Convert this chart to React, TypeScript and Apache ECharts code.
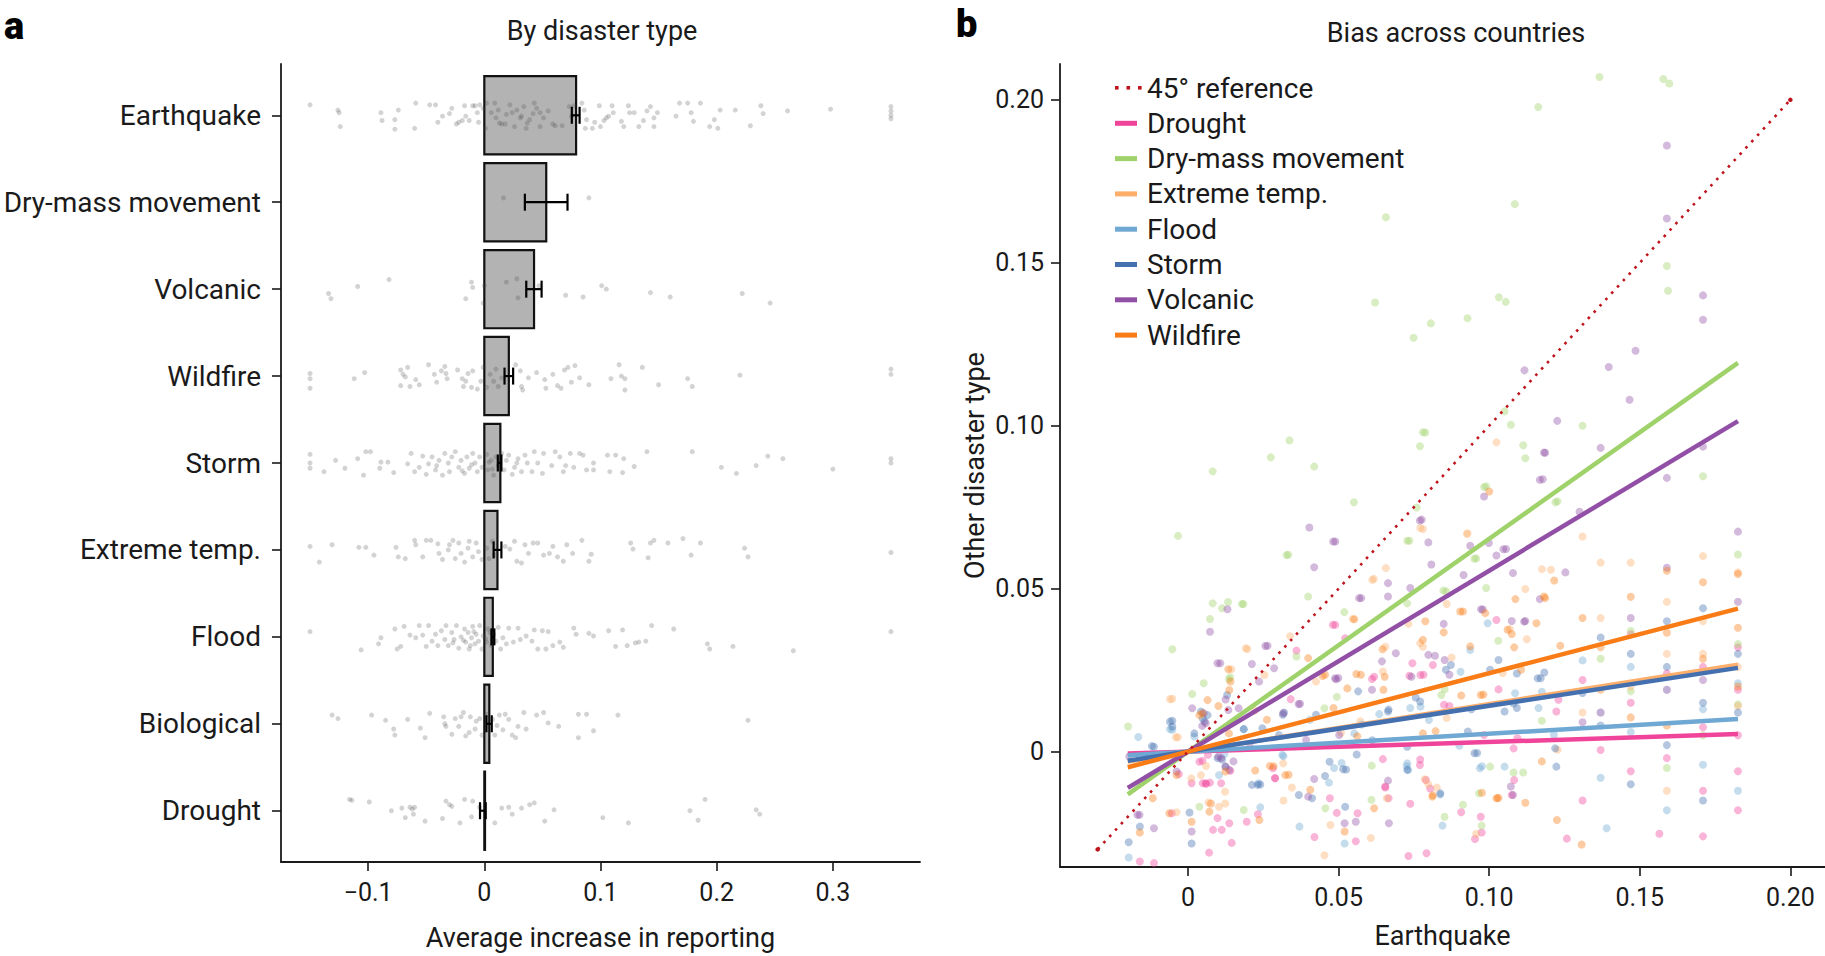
import React, { useEffect, useRef } from "react";
import * as echarts from "echarts";

// ---------------- Panel a data ----------------
const categories = ["Earthquake", "Dry-mass movement", "Volcanic", "Wildfire", "Storm", "Extreme temp.", "Flood", "Biological", "Drought"];
const barMeans = [0.079, 0.0533, 0.0428, 0.0211, 0.0138, 0.0113, 0.0073, 0.0043, 0.0006];
const ciLow = [0.0753, 0.0349, 0.0361, 0.0174, 0.0116, 0.008, 0.0061, 0.0018, -0.0037];
const ciHigh = [0.082, 0.0716, 0.0493, 0.0248, 0.0147, 0.0147, 0.0086, 0.0064, 0.0012];
const xTicksA = [-0.1, 0, 0.1, 0.2, 0.3];

// country-level points: [value, vertical jitter in category units]
const ptsEarthquake = [
  [-0.15, -0.12], [-0.126, -0.06], [-0.125, -0.03], [-0.124, 0.13], [-0.089, -0.03], [-0.088, 0.06], [-0.077, 0.05], [-0.074, -0.06],
  [-0.077, 0.16], [-0.06, 0.15], [-0.059, -0.14], [-0.047, -0.12], [-0.042, -0.12], [-0.04, 0.08], [-0.036, 0.01], [-0.03, -0.02],
  [-0.028, -0.08], [-0.024, 0.1], [-0.022, 0.08], [-0.019, 0.06], [-0.017, -0.11], [-0.016, 0.01], [-0.013, 0.06], [-0.01, -0.11],
  [-0.008, -0.11], [-0.005, 0.08], [-0.006, -0.03], [-0.004, -0.12], [-0.001, -0.08], [0.001, 0.15], [0.002, -0.14], [0.006, -0.03],
  [0.009, -0.14], [0.01, 0.03], [0.012, -0.06], [0.013, 0.09], [0.015, 0.1], [0.018, 0.1], [0.019, -0.01], [0.022, -0.12],
  [0.024, -0.03], [0.026, 0.13], [0.028, -0.06], [0.031, 0.03], [0.032, 0.01], [0.034, -0.1], [0.036, 0.15], [0.037, 0.09],
  [0.039, 0.05], [0.042, -0.02], [0.043, -0.14], [0.045, -0.08], [0.048, -0.03], [0.048, 0.13], [0.051, 0.03], [0.055, -0.05],
  [0.059, 0.1], [0.061, 0.12], [0.067, 0.12], [0.073, -0.1], [0.075, 0.01], [0.077, -0.11], [0.084, -0.14], [0.086, -0.06],
  [0.087, 0.15], [0.088, 0.05], [0.093, 0.15], [0.095, 0.08], [0.099, -0.11], [0.1, 0.13], [0.103, 0.06], [0.105, 0.03],
  [0.107, 0.01], [0.11, -0.11], [0.111, -0.03], [0.118, 0.07], [0.12, 0.13], [0.124, -0.11], [0.125, -0.03], [0.129, -0.03],
  [0.133, 0.13], [0.137, 0.06], [0.14, -0.05], [0.143, -0.1], [0.146, 0.13], [0.146, 0.03], [0.149, -0.03], [0.165, 0.01],
  [0.168, -0.14], [0.175, -0.14], [0.178, -0.03], [0.18, 0.07], [0.186, -0.14], [0.194, 0.13], [0.198, 0.05], [0.201, 0.15],
  [0.203, -0.06], [0.216, -0.06], [0.229, 0.12], [0.238, -0.11], [0.24, -0.02], [0.261, -0.05], [0.298, -0.07], [0.35, -0.1],
  [0.35, -0.05], [0.35, 0.0], [0.35, 0.04],
];
const ptsDryMass = [[0.0165, -0.05], [0.09, -0.05]];
const ptsVolcanic = [
  [-0.134, 0.05], [-0.132, 0.11], [-0.109, -0.03], [-0.082, -0.11], [-0.016, 0.11], [-0.011, -0.08], [-0.01, -0.02], [-0.001, 0.16],
  [0.0, -0.04], [0.019, -0.08], [0.028, -0.12], [0.029, 0.1], [0.047, -0.04], [0.07, 0.07], [0.085, 0.09], [0.101, -0.04],
  [0.105, 0.0], [0.143, 0.04], [0.16, 0.09], [0.222, 0.05], [0.246, 0.16],
];
const ptsWildfire = [
  [-0.15, -0.03], [-0.15, 0.03], [-0.15, 0.14], [-0.112, 0.03], [-0.103, -0.04], [-0.072, -0.07], [-0.07, -0.02], [-0.068, 0.01],
  [-0.066, -0.1], [-0.072, 0.11], [-0.064, 0.12], [-0.056, 0.1], [-0.059, 0.04], [-0.048, -0.13], [-0.043, -0.02], [-0.041, 0.07],
  [-0.037, -0.06], [-0.034, -0.11], [-0.033, -0.03], [-0.032, 0.03], [-0.023, -0.07], [-0.019, 0.03], [-0.018, 0.12], [-0.016, 0.06],
  [-0.014, -0.03], [-0.011, 0.13], [-0.01, -0.06], [-0.006, 0.15], [-0.003, 0.06], [-0.001, -0.1], [0.002, 0.13], [0.005, -0.02],
  [0.008, 0.06], [0.01, -0.08], [0.012, 0.12], [0.015, 0.02], [0.027, -0.13], [0.031, -0.06], [0.032, 0.12], [0.033, 0.16],
  [0.038, 0.02], [0.045, -0.04], [0.052, 0.04], [0.053, 0.14], [0.059, -0.02], [0.063, 0.11], [0.066, 0.14], [0.069, -0.07],
  [0.072, -0.1], [0.075, 0.07], [0.078, -0.12], [0.082, 0.02], [0.09, 0.1], [0.109, 0.03], [0.116, -0.13], [0.118, 0.0],
  [0.121, 0.03], [0.121, 0.16], [0.136, -0.1], [0.15, 0.1], [0.175, 0.03], [0.179, 0.12], [0.22, -0.01], [0.35, -0.08], [0.35, -0.02],
];
const ptsStorm = [
  [-0.15, -0.1], [-0.15, 0.0], [-0.15, 0.06], [-0.138, 0.1], [-0.128, -0.03], [-0.12, 0.06], [-0.109, -0.05], [-0.104, 0.14],
  [-0.102, -0.13], [-0.098, -0.13], [-0.089, -0.01], [-0.09, 0.06], [-0.083, -0.01], [-0.078, 0.11], [-0.066, 0.01], [-0.063, -0.11],
  [-0.06, 0.1], [-0.056, 0.05], [-0.053, -0.08], [-0.05, 0.13], [-0.048, 0.01], [-0.045, -0.07], [-0.042, 0.08], [-0.039, -0.03],
  [-0.036, 0.14], [-0.034, -0.11], [-0.031, 0.0], [-0.03, 0.1], [-0.028, -0.07], [-0.025, -0.13], [-0.022, 0.05], [-0.02, -0.03],
  [-0.017, 0.12], [-0.015, -0.07], [-0.013, 0.06], [-0.01, -0.11], [-0.008, 0.0], [-0.006, 0.1], [-0.004, -0.07], [-0.002, 0.05],
  [0.002, -0.1], [0.003, 0.08], [0.006, -0.03], [0.008, 0.14], [0.01, -0.07], [0.012, 0.03], [0.015, -0.11], [0.017, 0.08],
  [0.019, -0.03], [0.021, -0.09], [0.024, 0.13], [0.026, 0.05], [0.028, 0.0], [0.032, 0.1], [0.035, -0.09], [0.037, 0.0],
  [0.041, 0.1], [0.043, -0.13], [0.046, 0.0], [0.05, 0.12], [0.051, -0.11], [0.058, 0.03], [0.061, -0.13], [0.065, -0.07],
  [0.068, 0.1], [0.07, 0.03], [0.074, -0.11], [0.077, 0.05], [0.082, -0.11], [0.085, -0.09], [0.088, 0.08], [0.094, 0.0],
  [0.094, 0.08], [0.106, -0.09], [0.108, 0.1], [0.113, -0.09], [0.119, 0.11], [0.12, -0.05], [0.129, 0.04], [0.14, -0.13],
  [0.179, -0.13], [0.204, 0.05], [0.217, 0.12], [0.234, 0.03], [0.244, -0.08], [0.257, -0.05], [0.3, 0.07], [0.35, 0.0], [0.35, -0.05],
  [-0.011, 0.02], [0.004, -0.01], [-0.019, 0.09], [0.007, 0.07], [-0.041, 0.03], [0.029, -0.05],
];
const ptsExtremeTemp = [
  [-0.15, -0.04], [-0.142, 0.14], [-0.131, -0.06], [-0.108, -0.03], [-0.102, -0.03], [-0.095, 0.06], [-0.076, -0.03], [-0.074, 0.08],
  [-0.068, 0.1], [-0.06, -0.11], [-0.059, -0.06], [-0.053, 0.08], [-0.05, -0.11], [-0.046, -0.11], [-0.04, -0.07], [-0.039, 0.04],
  [-0.036, 0.11], [-0.031, 0.0], [-0.03, -0.06], [-0.027, -0.11], [-0.025, 0.1], [-0.022, -0.08], [-0.02, 0.04], [-0.017, 0.14],
  [-0.014, -0.02], [-0.013, -0.1], [-0.01, 0.08], [-0.007, -0.08], [-0.005, 0.02], [-0.002, 0.11], [0.002, -0.02], [0.004, 0.1],
  [0.007, -0.1], [0.009, 0.06], [0.018, -0.04], [0.022, -0.01], [0.026, -0.1], [0.028, 0.13], [0.032, 0.15], [0.035, -0.06],
  [0.038, 0.04], [0.042, -0.08], [0.046, -0.08], [0.051, 0.06], [0.056, 0.04], [0.059, -0.04], [0.063, 0.08], [0.068, 0.13],
  [0.071, -0.06], [0.076, 0.04], [0.084, -0.11], [0.09, 0.13], [0.092, 0.05], [0.126, -0.08], [0.128, -0.01], [0.141, 0.09],
  [0.143, -0.08], [0.146, -0.11], [0.158, -0.08], [0.171, -0.13], [0.178, 0.06], [0.186, -0.08], [0.224, -0.02], [0.227, 0.08],
  [0.35, 0.03],
];
const ptsFlood = [
  [-0.15, -0.06], [-0.106, 0.15], [-0.091, 0.08], [-0.089, 0.01], [-0.077, -0.09], [-0.075, 0.14], [-0.072, 0.11], [-0.069, -0.12],
  [-0.064, -0.02], [-0.059, 0.01], [-0.056, -0.13], [-0.053, -0.02], [-0.05, 0.11], [-0.048, -0.13], [-0.045, 0.05], [-0.042, -0.03],
  [-0.04, 0.1], [-0.037, -0.07], [-0.034, 0.03], [-0.033, -0.13], [-0.031, 0.1], [-0.028, -0.05], [-0.026, 0.03], [-0.024, -0.13],
  [-0.022, 0.13], [-0.02, 0.0], [-0.017, -0.09], [-0.016, 0.06], [-0.014, -0.05], [-0.013, 0.14], [-0.011, 0.01], [-0.01, -0.12],
  [-0.008, 0.08], [-0.007, -0.03], [-0.005, 0.05], [-0.004, -0.13], [-0.002, 0.14], [-0.001, -0.01], [0.002, 0.06], [0.003, -0.09],
  [0.006, 0.1], [0.008, -0.03], [0.01, 0.05], [0.012, -0.11], [0.014, 0.14], [0.016, 0.01], [0.019, 0.08], [0.021, -0.1],
  [0.025, 0.06], [0.029, -0.1], [0.031, 0.03], [0.036, -0.01], [0.041, 0.05], [0.043, -0.08], [0.046, 0.14], [0.05, -0.07],
  [0.053, 0.14], [0.055, -0.06], [0.059, 0.1], [0.065, 0.06], [0.068, 0.12], [0.077, -0.1], [0.079, -0.03], [0.09, -0.04],
  [0.094, -0.01], [0.107, -0.07], [0.113, 0.11], [0.119, -0.08], [0.123, 0.1], [0.13, 0.07], [0.133, 0.06], [0.139, 0.05],
  [0.144, -0.13], [0.163, -0.09], [0.192, 0.08], [0.194, 0.14], [0.214, 0.11], [0.266, 0.16], [0.35, -0.06],
  [-0.018, 0.04], [-0.009, -0.06], [0.001, 0.02], [-0.027, 0.07], [0.005, -0.05], [-0.012, 0.1],
];
const ptsBiological = [
  [-0.131, -0.1], [-0.126, -0.06], [-0.097, -0.1], [-0.085, -0.04], [-0.078, 0.06], [-0.077, 0.13], [-0.066, -0.05], [-0.055, 0.05],
  [-0.051, 0.16], [-0.047, -0.12], [-0.035, -0.08], [-0.034, 0.0], [-0.033, 0.03], [-0.028, 0.12], [-0.025, -0.06], [-0.022, 0.03],
  [-0.02, -0.08], [-0.018, -0.13], [-0.016, 0.14], [-0.013, 0.1], [-0.012, -0.08], [-0.008, 0.06], [-0.007, -0.03], [-0.004, -0.06],
  [-0.002, 0.13], [0.002, -0.11], [0.007, -0.05], [0.009, 0.13], [0.011, 0.02], [0.013, -0.1], [0.016, 0.07], [0.018, -0.11],
  [0.021, -0.05], [0.024, 0.13], [0.027, 0.16], [0.029, 0.03], [0.034, -0.13], [0.036, 0.06], [0.045, -0.1], [0.051, -0.13],
  [0.055, -0.01], [0.064, 0.03], [0.081, -0.11], [0.081, 0.16], [0.088, -0.11], [0.094, 0.08], [0.115, -0.1], [0.227, -0.04],
];
const ptsDrought = [
  [-0.116, -0.13], [-0.114, -0.12], [-0.099, -0.1], [-0.08, 0.0], [-0.071, -0.03], [-0.068, 0.08], [-0.064, -0.04], [-0.062, -0.02],
  [-0.061, 0.04], [-0.06, -0.04], [-0.051, 0.12], [-0.036, 0.09], [-0.033, -0.11], [-0.03, -0.07], [-0.028, -0.05], [-0.021, 0.14],
  [-0.017, -0.13], [-0.011, 0.07], [-0.01, -0.11], [-0.004, -0.04], [0.009, 0.14], [0.015, -0.03], [0.021, -0.04], [0.024, 0.04],
  [0.032, -0.03], [0.039, -0.07], [0.043, -0.09], [0.052, 0.12], [0.06, -0.01], [0.102, 0.08], [0.124, 0.14], [0.177, 0.0],
  [0.184, 0.11], [0.19, -0.13], [0.234, -0.01], [0.237, 0.04],
];
const jitterPoints = [ptsEarthquake, ptsDryMass, ptsVolcanic, ptsWildfire, ptsStorm, ptsExtremeTemp, ptsFlood, ptsBiological, ptsDrought];

// ---------------- Panel b data ----------------
const typesB = ["Drought", "Dry-mass movement", "Extreme temp.", "Flood", "Storm", "Volcanic", "Wildfire"];
const colorsB = ["#f0449a", "#9fd26a", "#fdae6b", "#6fa8d3", "#4470b0", "#9150a6", "#f97c16"];
const fitX = [-0.02, 0.1826];
const fitStartY = [-0.0006, -0.0131, -0.0030, -0.0011, -0.0028, -0.0111, -0.0048];
const fitEndY = [0.0054, 0.1193, 0.0267, 0.0100, 0.0257, 0.1014, 0.0439];
const refLine = [[-0.03, -0.03], [0.2, 0.2]];
const xTicksB = [0, 0.05, 0.1, 0.15, 0.2];
const yTicksB = [0, 0.05, 0.1, 0.15, 0.2];

const bDrought = [
  [0.0066, -0.001], [0.0048, -0.0028], [0.0073, -0.0095], [0.0059, -0.0097], [-0.003, -0.0069], [0.0289, -0.0082], [0.0471, -0.0143],
  [0.0481, 0.0389], [0.0522, 0.0348], [0.0655, -0.0107], [0.0735, 0.0233], [0.0745, 0.0271], [0.0772, 0.0235], [0.079, -0.0087],
  [0.0804, -0.0113], [0.0868, 0.014], [0.1024, 0.0404], [0.0907, -0.0186], [0.0972, -0.02], [0.1031, 0.0191], [0.1075, -0.0133],
  [0.1083, -0.0087], [0.123, 0.0159], [0.1223, 0.0123], [0.0618, 0.023], [0.0474, 0.002], [0.0563, -0.0189], [0.011, -0.0097],
  [0.0282, -0.0051], [0.077, -0.0041], [0.0666, -0.0143], [0.0983, 0.0051], [-0.016, -0.0337], [-0.0113, -0.0342], [0.007, -0.031],
  [0.0083, -0.024], [0.0112, -0.024], [0.0137, -0.022], [0.0145, -0.028], [0.0195, -0.0215], [0.042, -0.0262], [0.0557, -0.0275],
  [0.0732, -0.032], [0.0792, -0.0312], [0.0975, -0.0248], [0.0953, -0.0268], [0.1258, -0.0267], [0.1565, -0.0252], [0.0038, -0.0031],
  [0.0141, -0.0059], [0.0012, -0.0097], [0.0049, -0.0097], [0.006, -0.0099], [-0.0054, -0.0189], [0.0098, -0.0204], [0.1826, 0.005],
  [0.171, -0.012], [0.159, 0.024], [0.159, 0.019], [0.147, -0.006], [0.137, 0.0005], [0.171, 0.0075], [0.131, -0.015], [0.1826, 0.032],
  [0.1826, -0.018], [0.147, 0.036], [0.036, 0.031], [0.0232, -0.0192],
  [0.0489, 0.0389], [0.0813, 0.0266], [0.085, 0.0144], [0.0782, 0.0236], [0.0611, 0.0223], [0.0341, 0.0161], [0.0647, -0.0023],
  [0.0771, -0.0024], [0.1094, 0.0041], [0.1081, 0.001], [0.0289, -0.0081], [0.0494, -0.0188], [0.0655, -0.011], [0.0738, -0.016],
  [0.131, 0.022], [0.137, 0.012], [0.147, 0.015], [0.159, -0.002], [0.171, 0.026], [0.1826, 0.019], [0.1826, -0.006], [0.171, -0.026],
];
const bDryMass = [
  [-0.0199, 0.0077], [-0.0052, 0.0314], [-0.0033, 0.0662], [0.0014, 0.0177], [0.0052, 0.021], [0.0073, 0.0407], [0.0082, 0.0455],
  [0.0113, 0.044], [0.0133, 0.0459], [0.0179, 0.0453], [0.0082, 0.086], [0.014, 0.0228], [0.0275, 0.0903], [0.0327, 0.0603],
  [0.0337, 0.0955], [0.036, 0.0292], [0.0399, 0.0476], [0.0419, 0.0875], [0.0453, 0.0133], [0.0519, 0.0428], [0.0551, 0.0765],
  [0.061, -0.0043], [0.0728, 0.0647], [0.0728, 0.0455], [0.0759, 0.0749], [0.077, 0.0937], [0.078, 0.098], [0.0848, 0.0494],
  [0.0841, 0.0174], [0.0951, 0.0592], [0.0983, 0.0812], [0.099, 0.0502], [0.103, 0.034], [0.1051, 0.1044], [0.1072, 0.1003],
  [0.1113, 0.094], [0.1081, -0.0064], [0.1113, -0.0064], [0.122, 0.0765], [0.1175, 0.0095], [0.1003, -0.0046], [0.0852, 0.0191],
  [0.0966, -0.0128], [0.0852, -0.02], [0.0609, -0.0148], [0.0456, -0.0174], [0.0975, -0.0227], [0.1163, 0.1978], [0.0657, 0.164],
  [0.1085, 0.168], [0.0621, 0.1378], [0.0749, 0.127], [0.0806, 0.1314], [0.0928, 0.133], [0.1032, 0.1394], [0.1055, 0.138],
  [0.1366, 0.207], [0.1578, 0.2064], [0.1598, 0.205], [0.1594, 0.1414], [0.159, 0.149], [0.1826, 0.0605], [0.171, 0.0845],
  [0.147, 0.0185], [0.1826, 0.0145], [0.159, -0.005], [0.137, 0.0285], [0.0136, 0.0222], [0.0038, -0.0169], [0.0185, -0.0179],
  [0.0184, 0.0453], [0.0333, 0.0604], [0.0735, 0.0647], [0.099, 0.0814], [0.0857, 0.0492], [0.0957, 0.0593], [0.0788, 0.0979],
  [0.112, 0.09], [0.1227, 0.0768], [0.0494, 0.0168], [0.0913, -0.0163], [0.131, 0.1], [0.147, 0.037], [0.171, 0.005], [0.1826, 0.033],
];
const bExtremeTemp = [
  [-0.0052, 0.0162], [-0.0034, 0.0044], [0.0124, -0.0159], [0.0192, 0.0317], [0.0144, 0.0253], [0.0254, 0.0235], [0.0547, 0.0407],
  [0.0612, 0.0527], [0.0657, 0.0563], [0.0732, 0.0392], [0.078, 0.0322], [0.078, 0.0683], [0.0859, 0.0453], [0.0928, 0.067],
  [0.1024, 0.0949], [0.1069, 0.0376], [0.1205, 0.0558], [0.0655, 0.0322], [0.066, -0.0143], [0.0786, -0.0085], [0.1028, -0.0143],
  [0.0316, -0.0036], [0.0453, -0.0318], [0.0473, -0.0225], [0.0607, -0.0265], [0.0957, -0.0252], [0.147, 0.02], [0.159, 0.046],
  [0.171, 0.04], [0.1826, 0.055], [0.171, 0.03], [0.137, 0.041], [0.147, 0.058], [0.159, -0.012], [0.1826, 0.014], [0.131, 0.066],
  [-0.006, 0.0161], [-0.004, 0.0044], [0.006, -0.0044], [0.0043, -0.0072], [0.0011, -0.0082], [0.0123, -0.0123], [0.0068, -0.0156],
  [0.0103, -0.0169], [-0.0038, -0.0186], [0.0222, 0.0126], [0.0425, 0.0215], [0.0875, 0.0289], [0.1125, 0.0345], [0.0508, 0.0058],
  [0.0197, 0.0315], [0.0339, 0.0354], [0.0617, 0.053], [0.0771, 0.0686], [0.0926, 0.0668], [0.1175, 0.056], [0.112, 0.0499],
  [0.0771, 0.0333], [0.1045, 0.0241], [0.0647, 0.0246], [0.0572, 0.0093], [0.1227, 0.0006], [0.0859, 0.0103], [0.0317, -0.015],
  [0.0345, -0.011], [0.0798, -0.01], [0.0826, -0.011], [0.131, 0.012], [0.137, 0.058], [0.159, 0.03], [0.171, 0.06], [0.1826, 0.026],
];
const bFlood = [
  [-0.0052, 0.0067], [0.0021, 0.0046], [0.0121, -0.0007], [0.0313, -0.001], [0.0552, 0.0056], [0.0728, -0.0036], [0.0772, 0.0138],
  [0.08, 0.0097], [0.0901, 0.0018], [0.0969, -0.0051], [0.1051, -0.0046], [0.1086, 0.0179], [0.1175, 0.0184], [0.0731, -0.0056],
  [0.024, -0.0171], [-0.0197, -0.0325], [0.037, -0.023], [0.052, -0.0282], [0.0845, -0.0227], [0.139, -0.0235], [-0.006, 0.0069],
  [0.0103, -0.0072], [0.0185, 0.0069], [-0.0165, 0.0045], [0.0405, 0.0098], [0.0635, 0.0115], [0.0905, 0.0245], [0.1215, 0.0052],
  [0.137, 0.012], [0.147, 0.006], [0.159, 0.019], [0.171, -0.004], [0.1826, 0.021], [0.159, -0.018], [0.131, 0.028], [0.0468, -0.0095],
  [0.0738, 0.0134], [0.0995, 0.0394], [0.0937, 0.0312], [0.1164, 0.0134], [0.0726, -0.0045], [0.0234, -0.0097], [0.051, -0.0035],
  [0.0485, -0.005], [0.0837, -0.0132], [0.0976, -0.0045], [0.0577, 0.0083], [0.0317, -0.0014], [0.147, 0.026], [0.171, 0.013],
  [0.1826, -0.012], [0.137, -0.008],
];
const bStorm = [
  [-0.0052, 0.0095], [-0.0052, 0.0077], [-0.0113, 0.0015], [0.0021, 0.0056], [0.0055, 0.0092], [0.0113, -0.0024], [0.0124, -0.0046],
  [0.0231, -0.0102], [0.0319, 0.012], [0.0368, -0.0133], [0.0412, -0.0143], [0.047, -0.0031], [0.0515, -0.0054], [0.0522, -0.0169],
  [0.0664, 0.0123], [0.0728, 0.0015], [0.0728, -0.0056], [0.0838, -0.0128], [0.0951, -0.0005], [0.1031, 0.0281], [0.1051, 0.0123],
  [0.1081, 0.0148], [0.1161, 0.0225], [0.1171, 0.0225], [0.1219, 0.001], [0.1223, -0.0046], [0.0856, 0.0251], [0.0756, 0.0166],
  [0.0941, 0.013], [0.0302, 0.0051], [0.0247, 0.0072], [-0.016, -0.023], [-0.0197, -0.0278], [0.0012, -0.0282], [0.137, 0.035],
  [0.147, 0.03], [0.159, 0.026], [0.171, 0.015], [0.1826, 0.03], [0.171, 0.044], [0.159, 0.002], [0.131, 0.018], [0.147, -0.01],
  [0.0043, 0.0123], [0.0049, 0.0102], [0.0065, 0.0112], [0.013, 0.0174], [0.0185, 0.0069], [-0.006, 0.0092], [-0.012, 0.0017],
  [0.0098, -0.002], [0.0212, -0.0102], [0.0005, -0.0187], [0.0565, 0.0185], [0.0612, 0.0035],
  [0.0315, 0.0113], [0.0425, 0.0113], [0.0666, 0.0129], [0.0771, 0.0154], [0.0873, 0.0266], [0.1003, 0.0251], [0.1092, 0.024],
  [0.1183, 0.0243], [0.1092, 0.0134], [0.0929, 0.0062], [0.096, -0.0004], [0.056, -0.0009], [0.0525, -0.0055], [0.0455, -0.0075],
  [0.024, -0.0101], [0.137, 0.008], [0.159, 0.04], [0.1826, 0.012], [0.171, -0.015],
];
const bVolcanic = [
  [0.0073, 0.0368], [0.0131, 0.0437], [0.0107, 0.0271], [0.0059, 0.0087], [0.0052, 0.0118], [0.0137, -0.0056], [0.0257, 0.0324],
  [0.0236, 0.0215], [0.0286, 0.0256], [0.0403, 0.0688], [0.0419, 0.0566], [0.0482, 0.0645], [0.0492, 0.0222], [0.0568, 0.0471],
  [0.0664, 0.0517], [0.0664, 0.0476], [0.069, 0.0302], [0.077, 0.0709], [0.0808, 0.0574], [0.0849, 0.0392], [0.0973, 0.0437],
  [0.0983, 0.0783], [0.0999, 0.064], [0.1024, 0.0602], [0.1047, 0.0621], [0.1075, 0.0401], [0.1116, 0.0399], [0.1168, 0.0834],
  [0.1182, 0.0918], [0.1226, 0.1015], [0.1168, 0.0468], [0.1253, 0.055], [0.1072, -0.0107], [0.1079, -0.0133], [0.0742, 0.023],
  [0.0852, 0.0281], [0.082, 0.0294], [0.0399, -0.0138], [0.0664, -0.0089], [0.0419, -0.0084], [-0.0161, -0.0194], [-0.0195, -0.0015],
  [0.011, -0.002], [0.0151, -0.003], [0.0206, 0.0015], [0.0316, 0.0118], [0.0367, 0.0146], [0.0392, 0.0036], [0.0488, 0.0225],
  [0.0502, 0.0051], [0.1117, 0.117], [0.159, 0.186], [0.171, 0.14], [0.171, 0.1325], [0.159, 0.1636], [0.1486, 0.123],
  [0.1397, 0.118], [0.1466, 0.108], [0.1826, 0.0675], [0.171, 0.0936], [0.159, 0.084], [0.159, 0.0564], [0.137, 0.0932],
  [0.13, 0.0736], [-0.0113, -0.0235], [0.0012, -0.0245], [0.052, -0.022], [0.0557, -0.0215], [0.0667, -0.022], [0.0098, 0.0271],
  [0.0212, 0.0269], [0.0014, 0.0133], [0.0125, 0.016], [0.0134, 0.0128], [0.0168, 0.0133], [0.0047, 0.0079], [0.0101, -0.0015],
  [0.0125, -0.0046], [-0.0038, -0.0061], [-0.0168, -0.0194],
  [0.0264, 0.0325], [0.0489, 0.0645], [0.0575, 0.0471], [0.0738, 0.0502], [0.0776, 0.0712], [0.0798, 0.0642], [0.0915, 0.0542],
  [0.0937, 0.0632], [0.1056, 0.0622], [0.1079, 0.0548], [0.1178, 0.0836], [0.1186, 0.0917], [0.0979, 0.0436], [0.112, 0.0401],
  [0.0798, 0.0297], [0.0868, 0.0236], [0.0644, 0.0277], [0.0611, 0.019], [0.0372, 0.0147], [0.0499, 0.0226], [0.147, 0.041],
  [0.1826, 0.046], [0.171, 0.022], [0.131, 0.009],
];
const bWildfire = [
  [0.0048, 0.0118], [0.0137, 0.0189], [0.0223, -0.0058], [0.0272, -0.0044], [0.0323, -0.0072], [0.0399, 0.0287], [0.0447, 0.0232],
  [0.0552, 0.0406], [0.0559, 0.0238], [0.0646, 0.0314], [0.0653, 0.023], [0.078, 0.0056], [0.078, 0.0343], [0.0822, 0.0063],
  [0.0849, 0.0366], [0.0904, 0.043], [0.0907, 0.0172], [0.0972, 0.0174], [0.1, 0.0798], [0.1061, 0.0374], [0.1075, 0.0361],
  [0.1083, 0.032], [0.1106, 0.0251], [0.1157, 0.0394], [0.1182, 0.0476], [0.1216, 0.0525], [0.0529, 0.0194], [0.0618, -0.0174],
  [0.1024, -0.0143], [0.0811, -0.0138], [0.0124, -0.0061], [0.0076, -0.0159], [-0.0062, -0.0189], [-0.016, -0.0248], [0.0012, -0.0215],
  [0.0237, -0.021], [0.052, -0.0245], [0.1225, -0.021], [0.1307, -0.0285], [0.147, 0.0475], [0.159, 0.0365], [0.171, 0.052],
  [0.1826, 0.0545], [0.137, 0.032], [0.159, 0.0555], [0.171, 0.0285], [0.1826, 0.038], [0.147, 0.0105], [0.0134, 0.0253],
  [0.0141, 0.0215], [0.0038, 0.0112], [0.0065, 0.0158], [0.0101, 0.014], [0.0136, 0.0056], [-0.0038, -0.0072], [0.0071, -0.0184],
  [-0.0117, -0.0143],
  [0.0788, 0.04], [0.0913, 0.043], [0.0987, 0.0425], [0.1087, 0.0468], [0.1186, 0.0471], [0.1236, 0.0325], [0.0937, 0.0323],
  [0.0649, 0.019], [0.0574, 0.0236], [0.0455, 0.0236], [0.0483, 0.0134], [0.0406, -0.0117], [0.0262, 0.0098], [0.0284, -0.0045],
  [0.0334, -0.0071], [0.0562, 0.0047], [0.0981, 0.0175], [0.0976, -0.0126], [0.1031, -0.0142], [0.112, -0.0157], [0.0813, -0.0134],
  [0.1175, -0.003], [0.131, 0.041], [0.137, 0.019], [0.159, 0.008], [0.1826, 0.02],
];
const pointsB = [bDrought, bDryMass, bExtremeTemp, bFlood, bStorm, bVolcanic, bWildfire];

const FONT = 'Roboto, "Liberation Sans", Arial, sans-serif';
const INK = "#1a1a1a";

function hexA(hex: string, a: number) {
  const r = parseInt(hex.slice(1, 3), 16), g = parseInt(hex.slice(3, 5), 16), b = parseInt(hex.slice(5, 7), 16);
  return `rgba(${r},${g},${b},${a})`;
}

function buildOption() {
  const jitterData: number[][] = [];
  jitterPoints.forEach((arr, i) => arr.forEach(([x, j]) => jitterData.push([x, i + j])));

  const axisLine = { show: true, onZero: false, lineStyle: { color: INK, width: 1.8 } };
  const axisTick = (vals: number[]) => ({ show: true, inside: false, length: 9, lineStyle: { color: INK, width: 1.6 }, customValues: vals });

  const legendItems: any[] = [];
  const legendNames = ["45° reference", ...typesB];
  legendNames.forEach((name, k) => {
    const cy = 88 + k * 35.3;
    if (k === 0) {
      [0, 11.5, 23].forEach((dx) =>
        legendItems.push({ type: "rect", shape: { x: 1115 + dx, y: cy - 2, width: 3.6, height: 3.6 }, style: { fill: "#c0141c" } })
      );
    } else {
      legendItems.push({ type: "rect", shape: { x: 1115, y: cy - 2.5, width: 22, height: 5 }, style: { fill: colorsB[k - 1] } });
    }
    legendItems.push({
      type: "text", x: 1147, y: cy,
      style: { text: name, font: `28px ${FONT}`, fill: INK, verticalAlign: "middle", align: "left" },
    });
  });

  const series: any[] = [
    {
      type: "custom", name: "bars", xAxisIndex: 0, yAxisIndex: 0, z: 2,
      data: barMeans.map((v, i) => [v, i]),
      encode: { x: 0, y: 1 },
      renderItem: (_p: any, api: any) => {
        const v = api.value(0), i = api.value(1);
        const a = api.coord([0, i - 0.45]);
        const b = api.coord([v, i + 0.45]);
        return {
          type: "rect",
          shape: { x: Math.min(a[0], b[0]), y: Math.min(a[1], b[1]), width: Math.max(Math.abs(b[0] - a[0]), 0.3), height: Math.abs(b[1] - a[1]) },
          style: { fill: "#b3b3b3", stroke: "#111", lineWidth: 2.2 },
        };
      },
    },
    {
      type: "scatter", name: "countries", xAxisIndex: 0, yAxisIndex: 0, z: 3,
      data: jitterData, symbolSize: 5,
      itemStyle: { color: "rgba(70,70,70,0.3)" },
      silent: true,
    },
    {
      type: "custom", name: "ci", xAxisIndex: 0, yAxisIndex: 0, z: 4,
      data: ciLow.map((lo, i) => [lo, ciHigh[i], i]),
      encode: { x: [0, 1], y: 2 },
      renderItem: (_p: any, api: any) => {
        const i = api.value(2);
        const p0 = api.coord([api.value(0), i]);
        const p1 = api.coord([api.value(1), i]);
        const st = { stroke: "#000", lineWidth: 2.2 };
        return {
          type: "group",
          children: [
            { type: "line", shape: { x1: p0[0], y1: p0[1], x2: p1[0], y2: p1[1] }, style: st },
            { type: "line", shape: { x1: p0[0], y1: p0[1] - 8.5, x2: p0[0], y2: p0[1] + 8.5 }, style: st },
            { type: "line", shape: { x1: p1[0], y1: p1[1] - 8.5, x2: p1[0], y2: p1[1] + 8.5 }, style: st },
          ],
        };
      },
    },
  ];

  typesB.forEach((t, k) => {
    series.push({
      type: "scatter", name: t + " pts", xAxisIndex: 1, yAxisIndex: 1, z: 2,
      data: pointsB[k], symbolSize: 8,
      itemStyle: { color: hexA(colorsB[k], 0.5) },
      silent: true,
    });
  });
  typesB.forEach((t, k) => {
    series.push({
      type: "line", name: t, xAxisIndex: 1, yAxisIndex: 1, z: 5,
      data: [[fitX[0], fitStartY[k]], [fitX[1], fitEndY[k]]],
      showSymbol: false, symbol: "none",
      lineStyle: { color: colorsB[k], width: 4.5 },
    });
  });
  series.push({
    type: "line", name: "45° reference", xAxisIndex: 1, yAxisIndex: 1, z: 6,
    data: refLine, symbol: "circle", symbolSize: 4.5, showSymbol: true,
    itemStyle: { color: "#c0141c" },
    lineStyle: { color: "#c0141c", width: 2.6, type: [2.6, 6] },
  });

  return {
    animation: false,
    backgroundColor: "#ffffff",
    textStyle: { fontFamily: FONT },
    grid: [
      { left: 281, top: 64, width: 639, height: 803, containLabel: false },
      { left: 1060, top: 64, width: 765, height: 803, containLabel: false },
    ],
    xAxis: [
      {
        type: "value", gridIndex: 0, min: -0.175, max: 0.375,
        axisLine, axisTick: axisTick(xTicksA), splitLine: { show: false },
        axisLabel: {
          customValues: xTicksA, margin: 18, fontSize: 25, color: INK, fontFamily: FONT,
          formatter: (v: number) => (v < 0 ? "\u2212" + Math.abs(v) : String(v)),
        },
        name: "Average increase in reporting", nameLocation: "middle", nameGap: 62,
        nameTextStyle: { fontSize: 27, color: INK, fontFamily: FONT },
      },
      {
        type: "value", gridIndex: 1, min: -0.0425, max: 0.2115,
        axisLine, axisTick: axisTick(xTicksB), splitLine: { show: false },
        axisLabel: {
          customValues: xTicksB, margin: 18, fontSize: 25, color: INK, fontFamily: FONT,
          formatter: (v: number) => (v === 0 ? "0" : v.toFixed(2)),
        },
        name: "Earthquake", nameLocation: "middle", nameGap: 55,
        nameTextStyle: { fontSize: 27, color: INK, fontFamily: FONT },
      },
    ],
    yAxis: [
      {
        type: "value", gridIndex: 0, inverse: true, min: -0.59, max: 8.59,
        axisLine, axisTick: axisTick(categories.map((_, i) => i)), splitLine: { show: false },
        axisLabel: {
          customValues: categories.map((_, i) => i), margin: 20, fontSize: 28, color: INK, fontFamily: FONT,
          formatter: (v: number) => categories[Math.round(v)] ?? "",
        },
      },
      {
        type: "value", gridIndex: 1, min: -0.0354, max: 0.211,
        axisLine, axisTick: axisTick(yTicksB), splitLine: { show: false },
        axisLabel: {
          customValues: yTicksB, margin: 16, fontSize: 25, color: INK, fontFamily: FONT,
          formatter: (v: number) => (v === 0 ? "0" : v.toFixed(2)),
        },
        name: "Other disaster type", nameLocation: "middle", nameGap: 72, nameRotate: 90,
        nameTextStyle: { fontSize: 27, color: INK, fontFamily: FONT },
      },
    ],
    graphic: [
      { type: "text", x: 4, y: 26, style: { text: "a", font: `900 38px ${FONT}`, fill: "#000", verticalAlign: "middle" } },
      { type: "text", x: 956, y: 24, style: { text: "b", font: `900 38px ${FONT}`, fill: "#000", verticalAlign: "middle" } },
      { type: "text", x: 602, y: 31, style: { text: "By disaster type", font: `27px ${FONT}`, fill: INK, align: "center", verticalAlign: "middle" } },
      { type: "text", x: 1456, y: 33, style: { text: "Bias across countries", font: `27px ${FONT}`, fill: INK, align: "center", verticalAlign: "middle" } },
      { type: "group", children: legendItems },
    ],
    series,
  };
}

export default function App() {
  const ref = useRef<HTMLDivElement>(null);
  useEffect(() => {
    if (!ref.current) return;
    const chart = echarts.init(ref.current, undefined, { renderer: "svg" });
    chart.setOption(buildOption() as any);
    return () => chart.dispose();
  }, []);
  return (
    <div
      ref={ref}
      style={{ position: "absolute", left: 0, top: 0, width: 1825, height: 956, background: "#fff" }}
    />
  );
}
